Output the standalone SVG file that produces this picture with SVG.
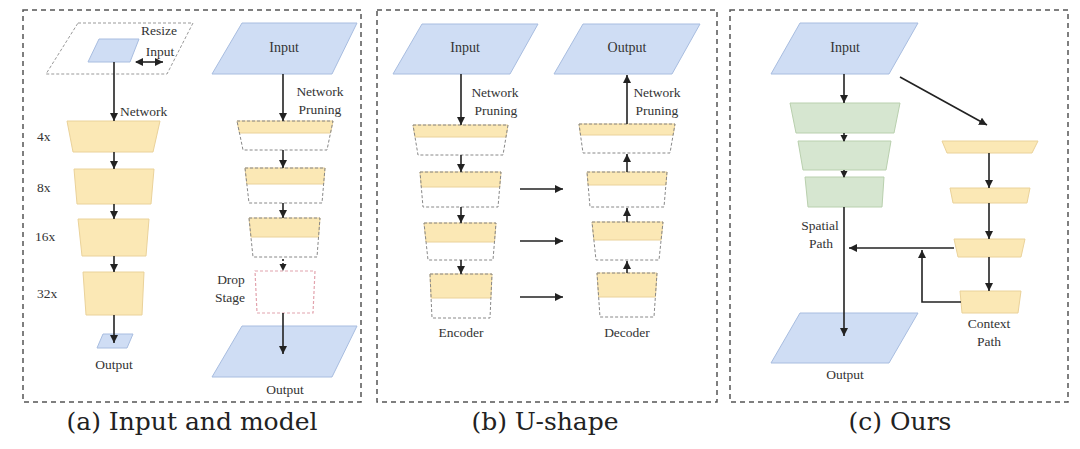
<svg xmlns="http://www.w3.org/2000/svg" width="1080" height="449" viewBox="0 0 1080 449">
<defs>
<marker id="ah" markerUnits="userSpaceOnUse" markerWidth="9" markerHeight="9" refX="8" refY="4" orient="auto"><path d="M0,0 L8,4 L0,8 z" fill="#222"/></marker>
<marker id="ahs" markerUnits="userSpaceOnUse" markerWidth="9" markerHeight="9" refX="6" refY="3.5" orient="auto"><path d="M0,0 L7,3.5 L0,7 z" fill="#222"/></marker>
<marker id="ahb" markerUnits="userSpaceOnUse" markerWidth="9" markerHeight="9" refX="1" refY="4" orient="auto"><path d="M0,4 L8,0 L8,8 z" fill="#222"/></marker>
</defs>
<style>
.panel{fill:none;stroke:#555;stroke-width:1.5;stroke-dasharray:5,4}
.blue{fill:#cfddf4;stroke:#a8bde0;stroke-width:1}
.yel{fill:#fbe8b5;stroke:#ead29a;stroke-width:1}
.grn{fill:#d6e6d0;stroke:#b9d0ae;stroke-width:1}
.dash{fill:none;stroke:#888;stroke-width:1;stroke-dasharray:3,2}
.pink{fill:none;stroke:#e2a3ad;stroke-width:1.2;stroke-dasharray:3,2}
.ghost{fill:#fff;stroke:#999;stroke-width:1;stroke-dasharray:3,2}
.ln{fill:none;stroke:#222;stroke-width:1.6}
text.t{font-size:13.5px;fill:#333}
text.tb{font-size:14px;fill:#333}
text.cap{font-size:25px;fill:#222}
</style>
<rect width="1080" height="449" fill="#fff"/>

<g font-family="Liberation Serif, Times New Roman, serif">
<g id="panel-a">
<rect class="panel" x="23" y="10" width="338" height="392"/>
<text class="cap" x="192" y="430" text-anchor="middle" font-family="DejaVu Serif, serif">(a) Input and model</text>
</g>
<g id="panel-b">
<rect class="panel" x="377" y="10" width="340" height="392"/>
<text class="cap" x="545" y="430" text-anchor="middle" font-family="DejaVu Serif, serif">(b) U-shape</text>
</g>
<g id="panel-c">
<rect class="panel" x="730" y="10" width="338" height="392"/>
<text class="cap" x="900" y="430" text-anchor="middle" font-family="DejaVu Serif, serif">(c) Ours</text>
</g>

<!-- Panel a left -->
<g id="a-resize">
<polygon class="ghost" points="78,23 193,23 167,74 46,74"/>
<polygon class="blue" points="99,39 139,39 130,62 88,62"/>
<text class="t" x="159" y="35" text-anchor="middle">Resize</text>
<text class="t" x="160" y="56" text-anchor="middle">Input</text>
</g>
<g id="a-4x"><polygon class="yel" points="67,121 160,121 153,152 73,152"/><text class="t" x="37" y="141">4x</text></g>
<g id="a-8x"><polygon class="yel" points="74,169 154,169 151,204 77,204"/><text class="t" x="37" y="192">8x</text></g>
<g id="a-16x"><polygon class="yel" points="78,219 149,219 146,256 82,256"/><text class="t" x="35" y="241">16x</text></g>
<g id="a-32x"><polygon class="yel" points="83,272 144,272 142,315 86,315"/><text class="t" x="37" y="298">32x</text></g>
<g id="a-out-small"><polygon class="blue" points="103,334 133,334 127,348 97,348"/><text class="t" x="114" y="369" text-anchor="middle">Output</text></g>

<!-- Panel a right -->
<g id="a-input"><polygon class="blue" points="242,23 357,23 332,74 212,74"/><text class="tb" x="284" y="52" text-anchor="middle">Input</text></g>
<g id="a-p1"><polygon class="yel" points="237,121 333,121 330.5,133 239.5,133"/><polygon class="dash" points="237,121 333,121 327,150 243,150"/></g>
<g id="a-p2"><polygon class="yel" points="245,168 325,168 323.6,184 246.8,184"/><polygon class="dash" points="245,168 325,168 322,203 249,203"/></g>
<g id="a-p3"><polygon class="yel" points="249,218 320,218 318.5,237 251,237"/><polygon class="dash" points="249,218 320,218 317,257 253,257"/></g>
<g id="a-drop"><polygon class="pink" points="255,271 315,271 313,313 257,313"/><text class="t" x="231" y="284" text-anchor="middle">Drop</text><text class="t" x="230" y="302" text-anchor="middle">Stage</text></g>
<g id="a-output"><polygon class="blue" points="242,326 357,326 332,377 212,377"/><text class="t" x="285" y="394" text-anchor="middle">Output</text></g>

<!-- Panel b -->
<g id="b-input"><polygon class="blue" points="422,24 538,24 510,74 393,74"/><text class="tb" x="465" y="52" text-anchor="middle">Input</text></g>
<g id="b-e1"><polygon class="yel" points="413,125 508,125 506,137 415,137"/><polygon class="dash" points="413,125 508,125 503,155 418,155"/></g>
<g id="b-e2"><polygon class="yel" points="420,172 501,172 499.7,187 421.3,187"/><polygon class="dash" points="420,172 501,172 498,207 423,207"/></g>
<g id="b-e3"><polygon class="yel" points="424,223 496,223 494.5,242 426,242"/><polygon class="dash" points="424,223 496,223 493,260 428,260"/></g>
<g id="b-e4"><polygon class="yel" points="430,274 492,274 490.9,298 431.1,298"/><polygon class="dash" points="430,274 492,274 490,318 432,318"/><text class="t" x="461" y="337" text-anchor="middle">Encoder</text></g>
<g id="b-output"><polygon class="blue" points="583,24 700,24 672,74 554,74"/><text class="tb" x="627" y="52" text-anchor="middle">Output</text></g>
<g id="b-d1"><polygon class="yel" points="579,124 675,124 673.1,135 580.5,135"/><polygon class="dash" points="579,124 675,124 670,153 583,153"/></g>
<g id="b-d2"><polygon class="yel" points="587,172 667,172 665.9,185 588.1,185"/><polygon class="dash" points="587,172 667,172 664,207 590,207"/></g>
<g id="b-d3"><polygon class="yel" points="592,222 663,222 661.1,240 593.9,240"/><polygon class="dash" points="592,222 663,222 659,260 596,260"/></g>
<g id="b-d4"><polygon class="yel" points="597,273 657,273 655.4,297 598.6,297"/><polygon class="dash" points="597,273 657,273 654,317 600,317"/><text class="t" x="627" y="337" text-anchor="middle">Decoder</text></g>

<!-- Panel c -->
<g id="c-input"><polygon class="blue" points="800,23 918,23 889,74 771,74"/><text class="tb" x="845" y="52" text-anchor="middle">Input</text></g>
<g id="c-g1"><polygon class="grn" points="790,103 900,103 894,133 796,133"/></g>
<g id="c-g2"><polygon class="grn" points="798,141 891,141 886,170 803,170"/></g>
<g id="c-g3"><polygon class="grn" points="805,177 884,177 882,207 808,207"/><text class="t" x="820" y="230" text-anchor="middle">Spatial</text><text class="t" x="821" y="248" text-anchor="middle">Path</text></g>
<g id="c-output"><polygon class="blue" points="800,313 918,313 889,363 771,363"/><text class="t" x="845" y="379" text-anchor="middle">Output</text></g>
<g id="c-y1"><polygon class="yel" points="942,141 1038,141 1032,153 947,153"/></g>
<g id="c-y2"><polygon class="yel" points="950,188 1030,188 1027,203 953,203"/></g>
<g id="c-y3"><polygon class="yel" points="954,239 1025,239 1021,257 958,257"/></g>
<g id="c-y4"><polygon class="yel" points="960,291 1021,291 1018,313 962,313"/><text class="t" x="989" y="328" text-anchor="middle">Context</text><text class="t" x="989" y="346" text-anchor="middle">Path</text></g>

<g id="connectors">
<line class="ln" x1="114" y1="62" x2="114" y2="121" marker-end="url(#ah)"/>
<text class="t" x="120" y="116">Network</text>
<line class="ln" x1="136" y1="62" x2="163" y2="62" marker-start="url(#ahb)" marker-end="url(#ah)" stroke-width="1.2"/>
<line class="ln" x1="114" y1="152" x2="114" y2="169" marker-end="url(#ah)"/>
<line class="ln" x1="114" y1="204" x2="114" y2="219" marker-end="url(#ah)"/>
<line class="ln" x1="114" y1="256" x2="114" y2="272" marker-end="url(#ah)"/>
<line class="ln" x1="114" y1="315" x2="114" y2="343" marker-end="url(#ah)"/>
<line class="ln" x1="283" y1="74" x2="283" y2="121" marker-end="url(#ah)"/>
<text class="t" x="320" y="96" text-anchor="middle">Network</text>
<text class="t" x="320" y="114" text-anchor="middle">Pruning</text>
<line class="ln" x1="283" y1="150" x2="283" y2="168" marker-end="url(#ah)"/>
<line class="ln" x1="283" y1="203" x2="283" y2="218" marker-end="url(#ah)"/>
<line class="ln" x1="283" y1="259" x2="283" y2="270" stroke-dasharray="2,2" marker-end="url(#ahs)"/>
<line class="ln" x1="283" y1="313" x2="283" y2="354" marker-end="url(#ah)"/>
<line class="ln" x1="461" y1="74" x2="461" y2="125" marker-end="url(#ah)"/>
<text class="t" x="495" y="97" text-anchor="middle">Network</text>
<text class="t" x="496" y="115" text-anchor="middle">Pruning</text>
<line class="ln" x1="461" y1="155" x2="461" y2="172" marker-end="url(#ah)"/>
<line class="ln" x1="461" y1="207" x2="461" y2="223" marker-end="url(#ah)"/>
<line class="ln" x1="461" y1="260" x2="461" y2="274" marker-end="url(#ah)"/>
<line class="ln" x1="520" y1="189" x2="563" y2="189" marker-end="url(#ah)"/>
<line class="ln" x1="520" y1="241" x2="563" y2="241" marker-end="url(#ah)"/>
<line class="ln" x1="520" y1="297" x2="563" y2="297" marker-end="url(#ah)"/>
<line class="ln" x1="627" y1="124" x2="627" y2="75" marker-end="url(#ah)"/>
<text class="t" x="657" y="97" text-anchor="middle">Network</text>
<text class="t" x="657" y="115" text-anchor="middle">Pruning</text>
<line class="ln" x1="627" y1="172" x2="627" y2="154" marker-end="url(#ah)"/>
<line class="ln" x1="627" y1="222" x2="627" y2="208" marker-end="url(#ah)"/>
<line class="ln" x1="627" y1="273" x2="627" y2="261" marker-end="url(#ah)"/>
<line class="ln" x1="844" y1="74" x2="844" y2="103" marker-end="url(#ah)"/>
<line class="ln" x1="844" y1="133" x2="844" y2="141" marker-end="url(#ahs)"/>
<line class="ln" x1="844" y1="170" x2="844" y2="177" marker-end="url(#ahs)"/>
<line class="ln" x1="844" y1="207" x2="844" y2="336" marker-end="url(#ah)"/>
<line class="ln" x1="900" y1="77" x2="987" y2="125" marker-end="url(#ah)"/>
<line class="ln" x1="989" y1="153" x2="989" y2="188" marker-end="url(#ah)"/>
<line class="ln" x1="989" y1="203" x2="989" y2="239" marker-end="url(#ah)"/>
<line class="ln" x1="954" y1="248" x2="849" y2="248" marker-end="url(#ah)"/>
<line class="ln" x1="989" y1="257" x2="989" y2="291" marker-end="url(#ah)"/>
<polyline class="ln" points="961,302 922,302 922,250" marker-end="url(#ah)"/>
</g>
</g>
</svg>
